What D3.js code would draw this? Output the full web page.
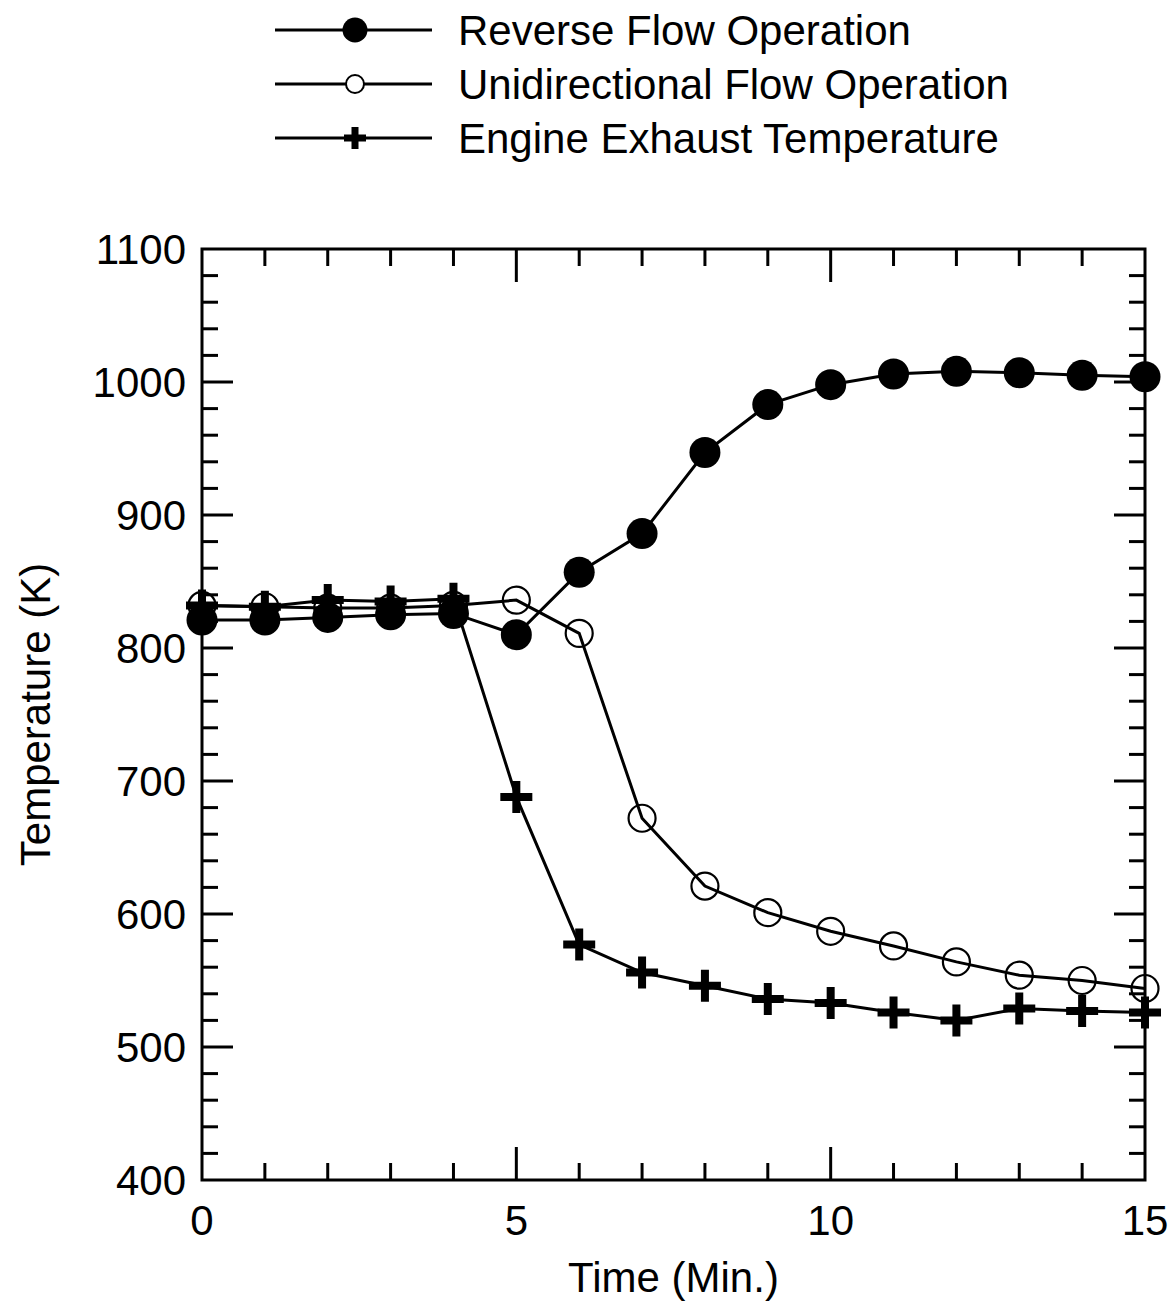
<!DOCTYPE html>
<html>
<head>
<meta charset="utf-8">
<script src="https://cdn.jsdelivr.net/npm/d3@7"></script>
<style>
  body { margin: 0; background: #fff; }
  svg { display: block; font-family: "Liberation Sans", Arial, sans-serif; }
</style>
</head>
<body>
<div id="chart"></div>
<script>
// data
const time = [0, 1, 2, 3, 4, 5, 6, 7, 8, 9, 10, 11, 12, 13, 14, 15];
const reverseFlow = [821, 821, 823, 825, 826, 810, 857, 886, 947, 983, 998, 1006, 1008, 1007, 1005, 1004];
const uniFlow = [832, 831, 830, 830, 832, 836, 811, 672, 621, 601, 587, 576, 564, 554, 550, 544];
const exhaust = [832, 831, 836, 835, 837, 688, 577, 556, 546, 536, 533, 526, 520, 529, 527, 526];
const seriesNames = ["Reverse Flow Operation", "Unidirectional Flow Operation", "Engine Exhaust Temperature"];
const xTicks = [0, 5, 10, 15];
const yTicks = [400, 500, 600, 700, 800, 900, 1000, 1100];

const width = 1176, height = 1304;
const margin = { top: 249, right: 31, bottom: 124, left: 202 };
const innerW = width - margin.left - margin.right;
const innerH = height - margin.top - margin.bottom;
const fontSize = "42px";

const svg = d3.select("#chart").append("svg")
    .attr("width", width)
    .attr("height", height);

const x = d3.scaleLinear().domain([0, 15]).range([margin.left, margin.left + innerW]);
const y = d3.scaleLinear().domain([400, 1100]).range([margin.top + innerH, margin.top]);

// ------------------------------------------------------------
// frame + inward ticks
// ------------------------------------------------------------
const axisG = svg.append("g").attr("stroke", "#000").attr("stroke-width", 3);
axisG.append("rect")
    .attr("x", x(0)).attr("y", y(1100))
    .attr("width", x(15) - x(0)).attr("height", y(400) - y(1100))
    .attr("fill", "none");

const xMinor = d3.range(1, 15);
const yMinor = d3.range(420, 1100, 20);

xMinor.forEach(t => {
    const len = t % 5 === 0 ? 33 : 17;
    axisG.append("line").attr("x1", x(t)).attr("x2", x(t)).attr("y1", y(400)).attr("y2", y(400) - len);
    axisG.append("line").attr("x1", x(t)).attr("x2", x(t)).attr("y1", y(1100)).attr("y2", y(1100) + len);
});
yMinor.forEach(v => {
    const len = v % 100 === 0 ? 31 : 16;
    axisG.append("line").attr("x1", x(0)).attr("x2", x(0) + len).attr("y1", y(v)).attr("y2", y(v));
    axisG.append("line").attr("x1", x(15)).attr("x2", x(15) - len).attr("y1", y(v)).attr("y2", y(v));
});

// tick labels
svg.append("g").selectAll("text").data(xTicks).enter().append("text")
    .attr("x", d => x(d)).attr("y", y(400) + 55)
    .attr("text-anchor", "middle")
    .style("font-size", fontSize)
    .text(d => d);

svg.append("g").selectAll("text").data(yTicks).enter().append("text")
    .attr("x", x(0) - 16).attr("y", d => y(d))
    .attr("dy", "0.35em")
    .attr("text-anchor", "end")
    .style("font-size", fontSize)
    .text(d => d);

// axis titles
svg.append("text")
    .attr("x", (x(0) + x(15)) / 2).attr("y", 1292)
    .attr("text-anchor", "middle")
    .style("font-size", fontSize)
    .text("Time (Min.)");

svg.append("text")
    .attr("transform", `translate(50,${(y(400) + y(1100)) / 2}) rotate(-90)`)
    .attr("text-anchor", "middle")
    .style("font-size", fontSize)
    .text("Temperature (K)");

// ------------------------------------------------------------
// series
// ------------------------------------------------------------
const line = d3.line().x((d, i) => x(time[i])).y(d => y(d));

function plusPath(cx, cy, arm, half) {
    return `M${cx - arm},${cy - half}H${cx - half}V${cy - arm}H${cx + half}V${cy - half}H${cx + arm}` +
           `V${cy + half}H${cx + half}V${cy + arm}H${cx - half}V${cy + half}H${cx - arm}Z`;
}

const plot = svg.append("g");

// exhaust
plot.append("path").datum(exhaust)
    .attr("d", line).attr("fill", "none").attr("stroke", "#000").attr("stroke-width", 3);
plot.append("g").selectAll("path").data(exhaust).enter().append("path")
    .attr("d", (d, i) => plusPath(x(time[i]), y(d), 16, 4))
    .attr("fill", "#000");

// unidirectional
plot.append("path").datum(uniFlow)
    .attr("d", line).attr("fill", "none").attr("stroke", "#000").attr("stroke-width", 3);
plot.append("g").selectAll("circle").data(uniFlow).enter().append("circle")
    .attr("cx", (d, i) => x(time[i])).attr("cy", d => y(d)).attr("r", 13.5)
    .attr("fill", "none").attr("stroke", "#000").attr("stroke-width", 2.2);

// reverse
plot.append("path").datum(reverseFlow)
    .attr("d", line).attr("fill", "none").attr("stroke", "#000").attr("stroke-width", 3);
plot.append("g").selectAll("circle").data(reverseFlow).enter().append("circle")
    .attr("cx", (d, i) => x(time[i])).attr("cy", d => y(d)).attr("r", 15.5)
    .attr("fill", "#000");

// ------------------------------------------------------------
// legend
// ------------------------------------------------------------
const legendRows = [30, 84, 138];
const legend = svg.append("g");
seriesNames.forEach((name, i) => {
    const ly = legendRows[i];
    legend.append("line").attr("x1", 275).attr("x2", 432).attr("y1", ly).attr("y2", ly)
        .attr("stroke", "#000").attr("stroke-width", 3);
    if (i === 0) {
        legend.append("circle").attr("cx", 355).attr("cy", ly).attr("r", 12.5).attr("fill", "#000");
    } else if (i === 1) {
        legend.append("circle").attr("cx", 355).attr("cy", ly).attr("r", 9)
            .attr("fill", "#fff").attr("stroke", "#000").attr("stroke-width", 2);
    } else {
        legend.append("path").attr("d", plusPath(355, ly, 11, 3.5)).attr("fill", "#000");
    }
    legend.append("text")
        .attr("x", 458).attr("y", ly).attr("dy", "0.35em")
        .style("font-size", fontSize)
        .text(name);
});
</script>
</body>
</html>
